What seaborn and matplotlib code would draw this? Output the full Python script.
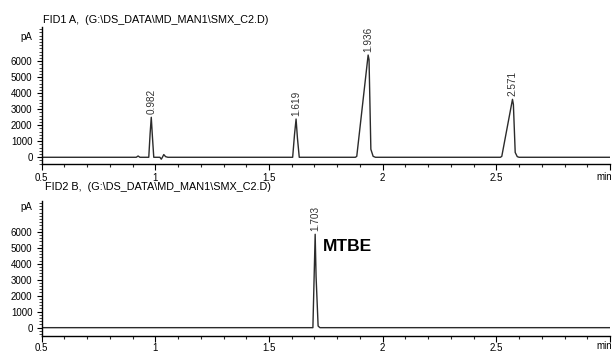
import matplotlib
matplotlib.use("Agg")
import matplotlib.pyplot as plt
import numpy as np
import pandas as pd
import seaborn as sns
from matplotlib.ticker import FixedLocator, MultipleLocator

# ---- chromatogram data: (retention time [min], signal [pA]) vertices ----
times_fid1 = [0.500, 0.916, 0.924, 0.932, 0.971, 0.977, 0.982, 0.987, 0.993,
              1.020, 1.026, 1.031, 1.037, 1.045, 1.055,
              1.604, 1.612, 1.619, 1.625, 1.633, 1.641,
              1.880, 1.886, 1.936, 1.940, 1.948, 1.958, 1.968,
              2.518, 2.524, 2.571, 2.575, 2.583, 2.592, 2.600, 3.000]
signal_fid1 = [0, 0, 80, 0, 0, 1500, 2500, 1300, 0,
               0, -120, 0, 170, 40, 0,
               0, 1400, 2390, 1200, 0, 0,
               0, 60, 6390, 6100, 500, 60, 0,
               0, 60, 3620, 3300, 300, 40, 0, 0]

times_fid2 = [0.500, 1.693, 1.699, 1.703, 1.707, 1.716, 1.724, 3.000]
signal_fid2 = [0, 0, 3500, 5840, 3200, 100, 0, 0]

# labelled peaks
peaks_fid1_rt = [0.982, 1.619, 1.936, 2.571]
peaks_fid1_height = [2500, 2390, 6390, 3620]
peaks_fid2_rt = [1.703]
peaks_fid2_height = [5840]
compound_fid2 = "MTBE"

titles = [r"FID1 A,  (G:\DS_DATA\MD_MAN1\SMX_C2.D)",
          r"FID2 B,  (G:\DS_DATA\MD_MAN1\SMX_C2.D)"]
x_tick_values = [0.5, 1.0, 1.5, 2.0, 2.5, 3.0]
x_tick_labels = ["0.5", "1", "1.5", "2", "2.5", ""]
y_tick_values = [0, 1000, 2000, 3000, 4000, 5000, 6000]

sns.set_theme(style="white")
plt.rcParams["font.family"] = ["Liberation Sans", "DejaVu Sans"]

W, H = 613, 352
fig = plt.figure(figsize=(W / 100, H / 100), dpi=100)
fig.patch.set_facecolor("white")

x_left, x_right = 41.7, 610.0
ax1 = fig.add_axes([x_left / W, (H - 164) / H, (x_right - x_left) / W, (164 - 26.7) / H])
ax2 = fig.add_axes([x_left / W, (H - 335.5) / H, (x_right - x_left) / W, (335.5 - 200.7) / H])

trace_color = "#2b2b2b"
tick_fs = 7.0
# axis, trace, peaks, y-range, x-label pad, header position (px)
panels = [
    (ax1, times_fid1, signal_fid1, peaks_fid1_rt, peaks_fid1_height, (-420, 8160), 2.4, (43, 20.0)),
    (ax2, times_fid2, signal_fid2, peaks_fid2_rt, peaks_fid2_height, (-490, 7940), 1.2, (45, 187.5)),
]

for i, (ax, t, s, prt, ph, ylim, xpad, title_xy) in enumerate(panels):
    df = pd.DataFrame({"time": t, "signal": s})
    sns.lineplot(data=df, x="time", y="signal", ax=ax, color=trace_color,
                 lw=1.0, estimator=None, sort=False)
    ax.set_xlim(0.5, 3.0)
    ax.set_ylim(*ylim)
    ax.set_xlabel("")
    ax.set_ylabel("")
    ax.set_facecolor("white")
    for side in ("top", "right"):
        ax.spines[side].set_visible(False)
    for side in ("left", "bottom"):
        ax.spines[side].set_color("black")
        ax.spines[side].set_linewidth(1.0)

    ax.xaxis.set_major_locator(FixedLocator(x_tick_values))
    ax.set_xticklabels(x_tick_labels)
    ax.xaxis.set_minor_locator(MultipleLocator(0.1))
    ax.yaxis.set_major_locator(FixedLocator(y_tick_values))
    ax.yaxis.set_minor_locator(MultipleLocator(200))

    ax.tick_params(axis="x", which="major", direction="out", length=4, width=0.8,
                   pad=xpad, labelsize=tick_fs, colors="black", bottom=True)
    ax.tick_params(axis="x", which="minor", direction="out", length=2.5, width=0.8,
                   bottom=True)
    ax.tick_params(axis="y", which="major", direction="out", length=3.6, width=0.8,
                   pad=3.0, labelsize=tick_fs, colors="black", left=True)
    ax.tick_params(axis="y", which="minor", direction="out", length=2.0, width=0.6,
                   left=True)

    # axis unit captions
    ax.annotate("pA", xy=(0, 7540), xycoords=("axes fraction", "data"),
                xytext=(-6.8, 0), textcoords="offset points",
                ha="right", va="center", fontsize=tick_fs, color="black")
    ax.annotate("min", xy=(1.0, 0), xycoords="axes fraction",
                xytext=(1.5, -xpad - 3.0), textcoords="offset points",
                ha="right", va="top", fontsize=tick_fs, color="black")

    # retention-time labels above each peak
    for rt, h in zip(prt, ph):
        ax.annotate(f"{rt:.3f}", xy=(rt, h), xytext=(0, 2.5), textcoords="offset points",
                    rotation=90, ha="center", va="bottom", fontsize=7.2, color="#333333")

    # channel / data-file header
    fig.text(title_xy[0] / W, 1 - title_xy[1] / H, titles[i],
             ha="left", va="center", fontsize=7.8, color="black")

# compound name next to the MTBE peak
ax2.text(1.736, 5100, compound_fid2, ha="left", va="center",
         fontsize=12.5, fontweight="bold", color="black")

fig.savefig("out.png", dpi=100, facecolor="white")
